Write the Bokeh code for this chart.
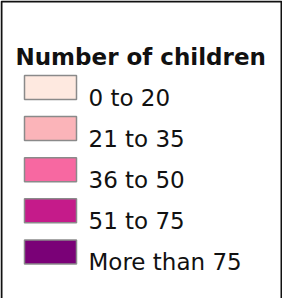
from bokeh.plotting import figure
from bokeh.models import Range1d, ColumnDataSource
from bokeh.core.properties import value
from bokeh.embed import file_html
from bokeh.resources import INLINE

title = "Number of children"
labels = ["0 to 20", "21 to 35", "36 to 50", "51 to 75", "More than 75"]
colors = ["#fee9e0", "#fbb4b9", "#f768a1", "#c51b8a", "#7a0177"]

W, H = 282, 298
OFF = 8  # page margin: local coordinate = reference pixel - OFF
p = figure(width=W, height=H, output_backend="svg", toolbar_location=None,
           x_range=Range1d(0, W), y_range=Range1d(H, 0), min_border=0)
p.axis.visible = False
p.grid.visible = False
p.outline_line_color = None
p.background_fill_color = "white"
p.border_fill_color = "white"

# frame of the legend box
p.quad(left=[1], right=[289 - OFF], top=[1], bottom=[H + 5], fill_color=None,
       line_color="#111111", line_width=2)

step = 41.1
y0 = 95 - OFF
ys = [y0 + i * step for i in range(len(labels))]
src = ColumnDataSource(dict(y=ys, ty=[y + 10 for y in ys], label=labels, color=colors))

p.rect(x=58 - OFF, y="y", width=52, height=24, source=src, fill_color="color",
       line_color="#8a8a8a", line_width=1.5)
p.text(x=96 - OFF, y="ty", text="label", source=src, text_font=value("DejaVu Sans"),
       text_font_size="23px", text_color="#111111", text_baseline="alphabetic")
p.text(x=[23 - OFF], y=[64 - OFF], text=[title], text_font=value("DejaVu Sans"),
       text_font_style="bold", text_font_size="23px", text_color="#111111",
       text_baseline="alphabetic")

open("out.html", "w").write(file_html(p, INLINE))
